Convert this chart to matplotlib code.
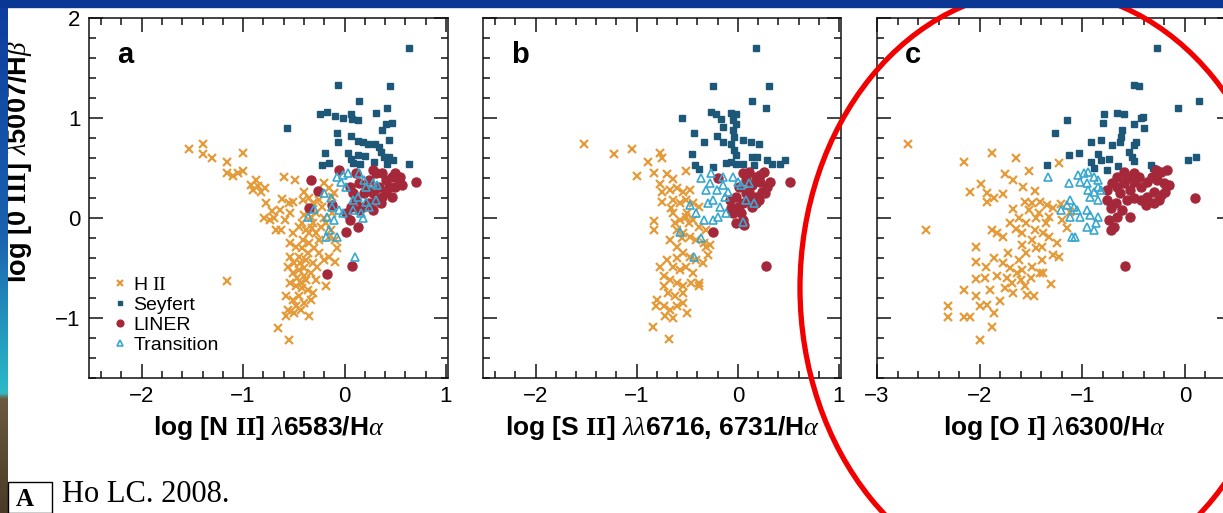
import numpy as np
import matplotlib
matplotlib.use("Agg")
import matplotlib.pyplot as plt
from matplotlib.patches import Ellipse, Rectangle
from matplotlib.colors import LinearSegmentedColormap
from matplotlib.ticker import MultipleLocator

plt.rcParams['font.family'] = 'Liberation Sans'
plt.rcParams['mathtext.fontset'] = 'custom'
plt.rcParams['mathtext.rm'] = 'Liberation Serif'
plt.rcParams['mathtext.it'] = 'Liberation Serif:italic'
plt.rcParams['mathtext.bf'] = 'Liberation Serif:bold'

# ---------------- data (Ho 2008, diagnostic diagrams) ----------------
# panel a : [N II]/Ha vs [O III]/Hb
hii_a = [(-1.53,0.69),(-1.40,0.74),(-1.40,0.64),(-1.31,0.60),(-1.16,0.56),(-1.00,0.65),(-1.16,0.45),
         (-1.10,0.42),(-1.05,0.45),(-1.00,0.47),(-0.92,0.33),(-0.87,0.38),(-0.90,0.28),(-0.82,0.26),
         (-0.77,0.15),(-0.72,0.07),(-0.79,0.00),(-0.74,-0.02),(-0.64,0.08),(-0.62,0.19),(-0.60,0.41),
         (-0.49,0.38),(-0.51,0.16),(-0.54,0.05),(-0.59,-0.02),(-0.68,-0.12),(-0.63,-0.12),(-0.40,0.26),
         (-0.41,0.18),(-0.35,0.20),(-0.31,0.15),(-0.25,0.18),(-0.22,0.11),(-0.15,0.30),(-0.12,0.21),
         (-1.16,-0.63),(-0.51,-0.15),(-0.45,-0.09),(-0.38,-0.12),(-0.31,-0.05),(-0.28,-0.15),(-0.25,-0.22),
         (-0.54,-0.25),(-0.48,-0.29),(-0.41,-0.22),(-0.35,-0.25),(-0.30,-0.30),(-0.25,-0.35),(-0.54,-0.39),
         (-0.50,-0.45),(-0.45,-0.39),(-0.38,-0.42),(-0.31,-0.45),(-0.27,-0.49),(-0.20,-0.42),(-0.15,-0.39),
         (-0.56,-0.49),(-0.51,-0.55),(-0.45,-0.52),(-0.40,-0.58),(-0.33,-0.55),(-0.28,-0.62),(-0.54,-0.65),
         (-0.48,-0.68),(-0.43,-0.65),(-0.36,-0.72),(-0.31,-0.75),(-0.58,-0.78),(-0.51,-0.82),(-0.45,-0.78),
         (-0.40,-0.85),(-0.33,-0.82),(-0.56,-0.92),(-0.50,-0.95),(-0.43,-0.92),(-0.35,-0.98),(-0.58,-0.98),
         (-0.66,-1.10),(-0.55,-1.22),(-0.07,-0.30),(-0.09,-0.44),(-0.15,-0.19),(-0.13,-0.12),(-0.18,-0.68),
         (-0.40,0.03),(-0.33,0.01),(-0.23,-0.09),(-0.20,0.00),(-0.09,-0.22),(-0.42,-0.30),(-0.36,-0.35),
         (-0.47,-0.60),(-0.40,-0.50),(-0.44,-0.45),(-0.38,-0.62),(-0.48,-0.88),(-0.42,-0.70),(-0.35,-0.15),
         (-0.42,-0.05),(-0.28,0.05),(-0.32,-0.10),(-0.78,0.30),(-0.85,0.32),(-0.70,0.00),(-0.55,0.15),
         (-0.18,-0.05),(-0.12,0.05),(-0.10,0.25),(-0.20,0.35)]
sey_a = [(0.64,1.70),(-0.06,1.33),(0.45,1.32),(0.14,1.17),(-0.57,0.90),(-0.24,1.04),(-0.17,1.06),
         (-0.09,1.02),(-0.02,1.00),(0.06,1.04),(0.07,0.99),(0.42,1.10),(0.31,1.05),(0.13,0.98),(0.41,0.94),
         (0.47,0.95),(0.37,0.88),(0.44,0.78),(-0.07,0.85),(0.06,0.82),(-0.06,0.76),(0.13,0.77),(0.18,0.76),
         (0.23,0.74),(0.30,0.74),(0.34,0.71),(-0.19,0.65),(0.03,0.65),(0.13,0.63),(0.06,0.59),(0.20,0.62),
         (0.08,0.55),(0.15,0.54),(0.36,0.66),(0.39,0.61),(0.44,0.61),(0.48,0.58),(0.29,0.56),(-0.22,0.53),
         (-0.15,0.55),(0.64,0.54),(0.42,0.54)]
lin_a = [(0.70,0.36),(-0.33,0.38),(-0.26,0.27),(-0.35,0.10),(0.01,0.05),(0.05,-0.02),(0.01,-0.14),
         (0.13,-0.09),(-0.17,-0.56),(0.07,-0.48),(-0.05,0.48),(0.05,0.31),(0.14,0.35),(0.21,0.28),(0.28,0.25),
         (0.34,0.31),(0.41,0.38),(0.47,0.41),(0.54,0.38),(0.44,0.31),(0.50,0.31),(0.37,0.21),(0.31,0.18),
         (0.24,0.15),(0.18,0.11),(0.11,0.18),(0.08,0.25),(0.24,0.38),(0.31,0.45),(0.28,0.48),(0.37,0.45),
         (0.50,0.45),(0.57,0.33),(0.36,0.15),(0.14,0.08),(0.28,0.08),(0.41,0.26),(0.06,0.11),(0.19,0.25),
         (0.55,0.41),(0.47,0.21),(0.11,0.45),(0.31,0.30),(-0.12,0.13)]
tra_a = [(-0.07,0.41),(-0.02,0.43),(0.03,0.45),(-0.04,0.36),(0.01,0.31),(-0.20,0.25),(-0.13,0.20),
         (-0.12,0.11),(-0.05,0.08),(-0.02,0.05),(-0.17,0.01),(-0.10,-0.02),(-0.15,-0.12),(-0.18,-0.19),
         (-0.07,-0.19),(0.10,-0.39),(0.08,0.18),(0.13,0.21),(0.18,0.00),(0.24,0.11),(0.31,0.18),(0.08,0.08),
         (0.16,0.05),(0.21,0.31),(0.28,0.35),(0.32,0.33),(0.14,0.45),(0.19,0.38),(0.21,0.16),(-0.36,0.01),
         (-0.30,0.09)]

# panel b : [S II]/Ha vs [O III]/Hb
hii_b = [(-1.52,0.74),(-1.22,0.64),(-1.05,0.69),(-0.89,0.56),(-0.77,0.65),(-0.75,0.60),(-1.00,0.42),
         (-0.83,0.45),(-0.70,0.44),(-0.64,0.39),(-0.77,0.34),(-0.75,0.26),(-0.75,0.16),(-0.51,0.47),
         (-0.83,-0.03),(-0.83,-0.12),(-0.84,-1.09),(-0.68,-1.21),(-0.50,-0.95),(-0.67,0.28),(-0.60,0.30),
         (-0.54,0.26),(-0.47,0.28),(-0.64,0.18),(-0.57,0.15),(-0.51,0.18),(-0.44,0.15),(-0.38,0.11),
         (-0.64,0.05),(-0.57,-0.02),(-0.51,0.01),(-0.44,-0.02),(-0.38,-0.09),(-0.31,-0.12),(-0.60,-0.12),
         (-0.54,-0.15),(-0.47,-0.19),(-0.41,-0.22),(-0.33,-0.25),(-0.28,-0.27),(-0.67,-0.22),(-0.60,-0.29),
         (-0.54,-0.35),(-0.47,-0.39),(-0.41,-0.42),(-0.34,-0.45),(-0.30,-0.37),(-0.70,-0.42),(-0.64,-0.49),
         (-0.57,-0.52),(-0.51,-0.49),(-0.44,-0.55),(-0.38,-0.65),(-0.77,-0.49),(-0.73,-0.58),(-0.67,-0.62),
         (-0.60,-0.65),(-0.54,-0.68),(-0.46,-0.65),(-0.73,-0.68),(-0.69,-0.75),(-0.62,-0.78),(-0.54,-0.75),
         (-0.80,-0.82),(-0.73,-0.88),(-0.67,-0.92),(-0.60,-0.88),(-0.72,-0.98),(-0.64,-1.00),(-0.54,-0.85),
         (-0.81,-0.88),(-0.38,-0.68),(-0.31,-0.29),(-0.60,-0.40),(-0.55,-0.20),(-0.48,-0.05),(-0.62,-0.05),
         (-0.66,0.10),(-0.50,0.05)]
sey_b = [(0.18,1.70),(-0.25,1.32),(0.31,1.32),(0.14,1.17),(0.28,1.10),(-0.55,1.00),(-0.27,1.06),
         (-0.22,1.04),(-0.17,0.99),(-0.15,0.91),(-0.07,1.05),(-0.02,1.04),(-0.05,0.98),(-0.02,0.94),
         (-0.05,0.88),(-0.04,0.81),(-0.43,0.85),(-0.33,0.76),(-0.21,0.82),(-0.15,0.76),(0.05,0.78),(0.13,0.76),
         (0.21,0.74),(-0.07,0.74),(-0.04,0.68),(-0.02,0.63),(-0.07,0.56),(-0.02,0.54),(0.05,0.54),(-0.45,0.64),
         (-0.42,0.53),(-0.38,0.49),(0.14,0.61),(0.19,0.61),(0.16,0.53),(0.29,0.58),(0.34,0.54),(0.42,0.54),
         (0.47,0.58),(-0.12,0.55),(-0.25,0.51)]
lin_b = [(0.52,0.36),(-0.25,-0.14),(0.28,-0.48),(0.26,0.46),(-0.20,0.40),(0.05,0.45),(0.11,0.46),
         (0.18,0.41),(0.22,0.36),(0.29,0.31),(0.32,0.36),(0.24,0.26),(0.18,0.21),(0.11,0.18),(0.05,0.15),
         (0.00,0.11),(-0.05,0.05),(-0.02,-0.05),(0.05,-0.02),(0.03,0.05),(0.14,0.11),(0.21,0.18),(0.27,0.25),
         (0.08,0.38),(0.14,0.33),(0.01,0.31),(0.08,0.25),(-0.08,0.18),(-0.07,0.10),(-0.02,0.21),(0.11,0.26),
         (0.22,0.43),(0.18,0.15),(0.06,-0.07)]
tra_b = [(-0.36,0.40),(-0.27,0.45),(-0.28,0.35),(-0.21,0.28),(-0.15,0.33),(-0.13,0.21),(-0.25,0.18),
         (-0.30,0.15),(-0.18,0.11),(-0.12,0.05),(-0.20,0.01),(-0.25,-0.02),(-0.33,-0.02),(-0.41,0.05),
         (-0.47,0.13),(-0.57,-0.14),(-0.36,-0.20),(-0.43,-0.39),(-0.05,0.41),(0.00,0.36),(0.03,0.33),
         (0.08,0.18),(0.16,0.15),(0.05,-0.04),(0.11,0.35),(-0.15,0.41),(-0.10,0.26),(-0.31,0.28)]

# panel c : [O I]/Ha vs [O III]/Hb
hii_c = [(-2.70,0.74),(-2.52,-0.12),(-2.15,0.56),(-1.88,0.65),(-1.65,0.60),(-1.52,0.47),(-1.23,0.55),
         (-1.75,0.44),(-1.67,0.38),(-1.58,0.31),(-1.46,0.27),(-1.99,0.34),(-2.09,0.26),(-1.93,0.25),
         (-1.86,0.20),(-1.93,0.16),(-1.77,0.24),(-1.56,0.16),(-1.49,0.15),(-1.41,0.16),(-1.34,0.13),
         (-1.28,0.10),(-1.52,0.08),(-1.67,0.09),(-1.42,0.05),(-1.32,0.01),(-1.20,-0.02),(-1.12,0.06),
         (-1.21,0.14),(-1.88,-0.12),(-1.83,-0.15),(-1.77,-0.19),(-1.65,-0.11),(-1.59,-0.15),(-1.46,-0.12),
         (-1.38,-0.15),(-1.32,-0.19),(-1.49,-0.22),(-1.59,-0.27),(-1.39,-0.29),(-1.28,-0.37),(-1.23,-0.39),
         (-2.04,-0.29),(-2.04,-0.44),(-2.04,-0.61),(-2.15,-0.72),(-2.04,-0.78),(-1.94,-0.49),(-1.86,-0.40),
         (-1.77,-0.45),(-1.70,-0.50),(-1.64,-0.55),(-1.83,-0.58),(-1.73,-0.60),(-1.59,-0.52),(-1.49,-0.49),
         (-1.39,-0.42),(-1.38,-0.55),(-1.30,-0.66),(-1.67,-0.75),(-1.54,-0.77),(-1.47,-0.78),(-1.90,-0.72),
         (-1.80,-0.83),(-1.93,-0.87),(-1.86,-0.95),(-2.00,-0.88),(-2.31,-0.88),(-2.31,-0.99),(-2.15,-0.99),
         (-2.09,-0.99),(-1.88,-1.09),(-2.00,-1.22),(-1.56,-0.68),(-1.41,-0.55),(-1.72,-0.35),(-1.62,-0.42),
         (-1.55,-0.35),(-1.45,-0.30),(-1.68,-0.65),(-1.75,-0.70),(-1.50,-0.60),(-1.60,-0.62),(-1.35,-0.05),
         (-1.45,0.00),(-1.55,-0.05),(-1.62,0.00),(-1.70,-0.05),(-1.95,-0.60),(-1.25,-0.25),(-1.15,-0.10)]
sey_c = [(-0.27,1.70),(-0.50,1.33),(-0.45,1.32),(0.14,1.17),(-0.07,1.10),(-1.15,0.98),(-1.27,0.85),
         (-0.79,1.04),(-0.80,0.95),(-0.66,1.05),(-0.59,1.04),(-0.43,1.00),(-0.41,1.01),(-0.50,0.94),
         (-0.40,0.90),(-0.61,0.88),(-0.62,0.81),(-0.63,0.76),(-0.71,0.73),(-0.82,0.78),(-0.91,0.76),
         (-0.48,0.76),(-0.50,0.73),(-0.54,0.66),(-0.51,0.61),(-0.50,0.57),(-1.13,0.63),(-1.03,0.65),
         (-0.91,0.56),(-0.85,0.64),(-0.82,0.58),(-0.74,0.59),(-0.76,0.48),(-0.89,0.50),(-1.34,0.53),
         (-0.65,0.52),(-0.33,0.53),(-0.31,0.50),(0.03,0.58),(0.11,0.61)]
lin_c = [(0.10,0.20),(-0.58,-0.48),(-0.17,0.48),(-0.23,0.46),(-0.32,0.41),(-0.27,0.38),(-0.20,0.35),
         (-0.15,0.33),(-0.19,0.26),(-0.30,0.26),(-0.37,0.21),(-0.43,0.18),(-0.38,0.13),(-0.30,0.15),
         (-0.25,0.18),(-0.23,0.23),(-0.43,0.31),(-0.50,0.36),(-0.56,0.41),(-0.50,0.45),(-0.59,0.46),
         (-0.66,0.41),(-0.71,0.35),(-0.76,0.28),(-0.76,0.18),(-0.72,0.10),(-0.74,-0.02),(-0.72,-0.12),
         (-0.69,-0.09),(-0.66,0.01),(-0.61,0.08),(-0.56,0.18),(-0.63,0.25),(-0.66,0.31),(-0.53,0.28),
         (-0.59,0.35),(-0.37,0.36),(-0.45,0.41),(-0.28,0.48),(-0.67,0.15),(-0.50,0.20),(-0.53,0.01)]
tra_c = [(-1.33,0.41),(-1.13,0.35),(-1.04,0.43),(-0.98,0.45),(-0.94,0.46),(-0.89,0.41),(-1.02,0.36),
         (-0.95,0.35),(-0.85,0.31),(-0.89,0.26),(-0.82,0.28),(-0.92,0.21),(-0.85,0.18),(-1.12,0.18),
         (-1.15,0.13),(-1.08,0.11),(-1.05,0.08),(-1.12,0.01),(-1.02,0.01),(-0.95,0.08),(-0.92,0.03),
         (-0.85,0.01),(-0.87,-0.05),(-0.95,-0.09),(-0.89,-0.12),(-1.10,-0.19),(-1.07,-0.19),(-1.21,0.08),
         (-0.85,0.38),(-0.94,0.28)]

ylabel = r"log [0 $\mathbf{III}$] $\lambda$5007/H$\beta$"
xlabels = [r"log [N $\mathbf{II}$] $\lambda$6583/H$\alpha$",
           r"log [S $\mathbf{II}$] $\lambda\lambda$6716, 6731/H$\alpha$",
           r"log [O $\mathbf{I}$] $\lambda$6300/H$\alpha$"]
letters = ['a', 'b', 'c']

C_HII = '#E69B3A'
C_SEY = '#1D5878'
C_LIN = '#A4283A'
C_TRA = '#38A8D0'

# ---------------- figure ----------------
fig = plt.figure(figsize=(12.23, 5.13), dpi=100)
W, H = 1223.0, 513.0

def px_axes(x0, x1, y0, y1):
    return fig.add_axes([x0 / W, 1 - y1 / H, (x1 - x0) / W, (y1 - y0) / H])

axa = px_axes(89, 448, 18, 378)
axb = px_axes(483, 841, 18, 378)
axc = px_axes(877, 1231, 18, 378)

def panel(ax, hii, sey, lin, tra, xlim, xticks, letter, xlabel):
    h = np.array(hii); s = np.array(sey); l = np.array(lin); t = np.array(tra)
    ax.plot(h[:, 0], h[:, 1], 'x', ms=5.5, mew=1.6, color=C_HII, ls='none', label=r'H $\mathrm{II}$')
    ax.plot(s[:, 0], s[:, 1], 's', ms=4.5, color=C_SEY, ls='none', label='Seyfert')
    ax.plot(l[:, 0], l[:, 1], 'o', ms=6.5, color=C_LIN, ls='none', label='LINER')
    ax.plot(t[:, 0], t[:, 1], '^', ms=6, mfc='none', mec=C_TRA, mew=1.2, ls='none', label='Transition')
    ax.set_xlim(xlim)
    ax.set_ylim(-1.6, 2.0)
    ax.set_xticks(xticks)
    ax.set_yticks([-1, 0, 1, 2])
    ax.xaxis.set_minor_locator(MultipleLocator(0.2))
    ax.yaxis.set_minor_locator(MultipleLocator(0.2))
    ax.tick_params(which='both', direction='in', top=True, right=True, width=1.1, labelsize=16, color='#111111')
    ax.tick_params(which='major', length=10, pad=6)
    ax.tick_params(which='minor', length=5)
    for sp in ax.spines.values():
        sp.set_linewidth(1.1)
        sp.set_color('#111111')
    ax.text(0.078, 0.875, letter, transform=ax.transAxes, fontsize=21, fontweight='bold', va='baseline')
    ax.set_xlabel(xlabel, fontsize=19, fontweight='bold', va='center')
    ax.xaxis.set_label_coords(0.5, -0.139)

panel(axa, hii_a, sey_a, lin_a, tra_a, (-2.52, 1.02), [-2, -1, 0, 1], letters[0], xlabels[0])
panel(axb, hii_b, sey_b, lin_b, tra_b, (-2.52, 1.02), [-2, -1, 0, 1], letters[1], xlabels[1])
panel(axc, hii_c, sey_c, lin_c, tra_c, (-3.0, 0.45), [-3, -2, -1, 0], letters[2], xlabels[2])

axb.tick_params(labelleft=False)
axc.tick_params(labelleft=False)
axa.set_ylabel(ylabel, fontsize=19.5, fontweight='bold', va='center')
axa.yaxis.set_label_coords(-0.195, 0.6)

axa.legend(loc='lower left', bbox_to_anchor=(0.045, 0.045), frameon=False, fontsize=14,
           handlelength=0.7, handletextpad=0.35, labelspacing=0.12, borderaxespad=0,
           markerscale=0.75, numpoints=1)

# ---------------- slide decoration ----------------
strip_cmap = LinearSegmentedColormap.from_list(
    'strip', [(0.0, '#0d3d9e'), (0.45, '#1a62ae'), (0.74, '#2ab4c6'), (0.765, '#32b8c2'),
              (0.775, '#6b5a3e'), (1.0, '#4a3b28')])
ax_s = fig.add_axes([0, 0, 8 / W, 1 - 7 / H])
ax_s.imshow(np.linspace(0, 1, 256)[:, None], aspect='auto', cmap=strip_cmap)
ax_s.axis('off')

fig.add_artist(Rectangle((0, 1 - 7 / H), 1, 7 / H, transform=fig.transFigure,
                         color='#0a3694', zorder=11))

fig.add_artist(Ellipse((1042 / W, 1 - 288 / H), 484 / W, 596 / H, transform=fig.transFigure,
                       fill=False, ec='#f20000', lw=3.8, zorder=10))

fig.add_artist(Rectangle((8 / W, 0), 44 / W, 31 / H, transform=fig.transFigure,
                         fc='white', ec='black', lw=1, zorder=9))
fig.text(25 / W, 1 - 488 / H, 'A', family='Liberation Serif', fontsize=18, fontweight='bold',
         ha='center', va='top', zorder=12)
fig.text(62 / W, 1 - 502 / H, 'Ho LC. 2008.', family='Liberation Serif', fontsize=22,
         ha='left', va='baseline')

plt.savefig('out.png', dpi=100)
